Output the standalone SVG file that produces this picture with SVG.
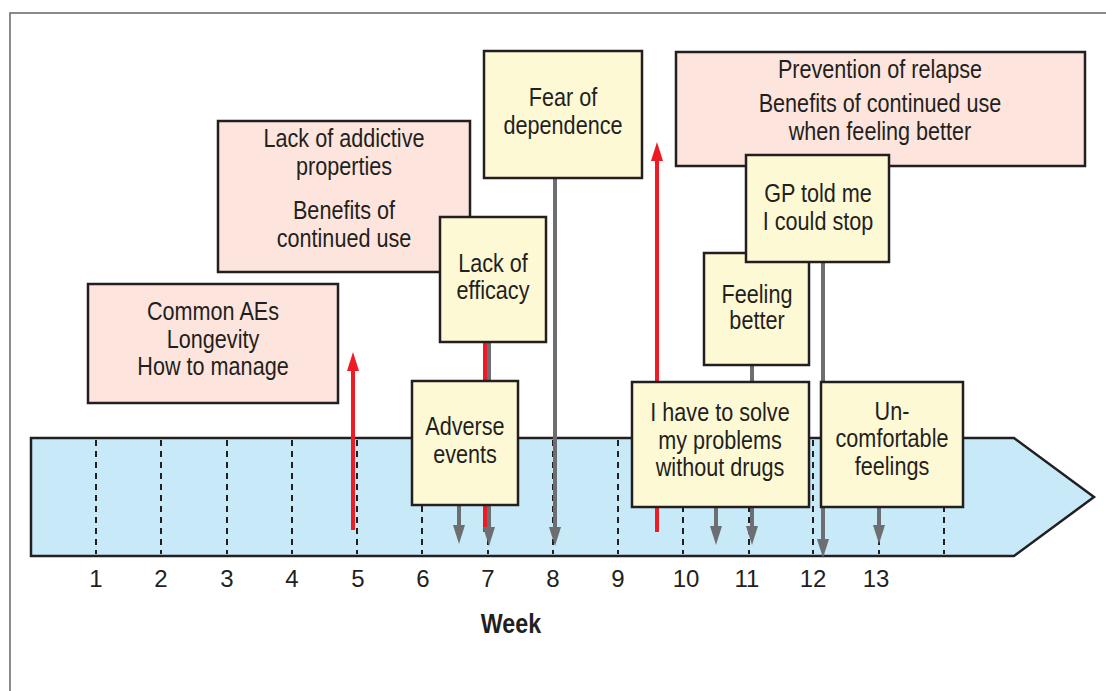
<svg xmlns="http://www.w3.org/2000/svg" width="1106" height="691" viewBox="0 0 1106 691">
<style>
.frame{fill:none;stroke:#6d6e71;stroke-width:1.6}
.tl{fill:#c8e9f8;stroke:#231f20;stroke-width:2.5;stroke-linejoin:miter}
.dash{stroke:#231f20;stroke-width:2;stroke-dasharray:6 5}
.gl{stroke:#6d6e71;stroke-width:4;fill:none}
.rl{stroke:#ed1c24;stroke-width:4;fill:none}
.pink{fill:#fde5dd;stroke:#231f20;stroke-width:2.5}
.yel{fill:#fef9d5;stroke:#231f20;stroke-width:2.5}
.t{font-family:"Liberation Sans Narrow","Liberation Sans",Arial,sans-serif;font-size:25px;fill:#231f20;text-anchor:middle}
.n{font-family:"Liberation Sans",Arial,sans-serif;font-size:24px;fill:#231f20;text-anchor:middle}
.wk{font-family:"Liberation Sans Narrow","Liberation Sans",Arial,sans-serif;font-size:28px;font-weight:bold;fill:#231f20;text-anchor:middle}
</style>
<defs>
<marker id="ga" markerUnits="userSpaceOnUse" markerWidth="20" markerHeight="12" refX="1" refY="6" orient="auto"><path d="M0,0 L19,6 L0,12 z" fill="#6d6e71"/></marker>
<marker id="ra" markerUnits="userSpaceOnUse" markerWidth="20" markerHeight="12" refX="1" refY="6" orient="auto"><path d="M0,0 L19,6 L0,12 z" fill="#ed1c24"/></marker>
</defs>
<rect class="frame" x="10" y="13" width="1200" height="800"/>
<g id="timeline">
<polygon class="tl" points="31,438 1014,438 1094,497 1014,556 31,556"/>
<g id="ticks">
<line class="dash" x1="96" y1="440" x2="96" y2="554"/>
<line class="dash" x1="161" y1="440" x2="161" y2="554"/>
<line class="dash" x1="227" y1="440" x2="227" y2="554"/>
<line class="dash" x1="292" y1="440" x2="292" y2="554"/>
<line class="dash" x1="357" y1="440" x2="357" y2="554"/>
<line class="dash" x1="422" y1="440" x2="422" y2="554"/>
<line class="dash" x1="488" y1="440" x2="488" y2="554"/>
<line class="dash" x1="553" y1="440" x2="553" y2="554"/>
<line class="dash" x1="618" y1="440" x2="618" y2="554"/>
<line class="dash" x1="683" y1="440" x2="683" y2="554"/>
<line class="dash" x1="749" y1="440" x2="749" y2="554"/>
<line class="dash" x1="813" y1="440" x2="813" y2="554"/>
<line class="dash" x1="879" y1="440" x2="879" y2="554"/>
<line class="dash" x1="944" y1="440" x2="944" y2="554"/>
</g>
<g id="weeks">
<text class="n" x="96" y="587">1</text>
<text class="n" x="161" y="587">2</text>
<text class="n" x="227" y="587">3</text>
<text class="n" x="292" y="587">4</text>
<text class="n" x="358" y="587">5</text>
<text class="n" x="423" y="587">6</text>
<text class="n" x="488" y="587">7</text>
<text class="n" x="553" y="587">8</text>
<text class="n" x="618" y="587">9</text>
<text class="n" x="686" y="587">10</text>
<text class="n" x="747" y="587">11</text>
<text class="n" x="813" y="587">12</text>
<text class="n" x="876" y="587">13</text>
</g>
<g transform="translate(511 0) scale(0.83 1)"><text class="wk" x="0" y="633">Week</text></g>
</g>
<g id="connectors">
<line class="rl" x1="353" y1="530" x2="353" y2="370" marker-end="url(#ra)"/>
<line class="rl" x1="657" y1="532" x2="657" y2="160" marker-end="url(#ra)"/>
<line class="rl" x1="485" y1="532" x2="485" y2="300"/>
<line class="gl" x1="489" y1="342" x2="489" y2="528" marker-end="url(#ga)"/>
<line class="gl" x1="459" y1="505" x2="459" y2="526" marker-end="url(#ga)"/>
<line class="gl" x1="555" y1="178" x2="555" y2="528" marker-end="url(#ga)"/>
<line class="gl" x1="716" y1="507" x2="716" y2="527" marker-end="url(#ga)"/>
<line class="gl" x1="752" y1="365" x2="752" y2="527" marker-end="url(#ga)"/>
<line class="gl" x1="823" y1="262" x2="823" y2="540" marker-end="url(#ga)"/>
<line class="gl" x1="879" y1="507" x2="879" y2="526" marker-end="url(#ga)"/>
</g>
<g id="n-common">
<rect class="pink" x="88" y="284" width="250" height="119"/>
<g transform="translate(213 0) scale(0.865 1)">
<text class="t" x="0" y="320">Common AEs</text>
<text class="t" x="0" y="348">Longevity</text>
<text class="t" x="0" y="375">How to manage</text>
</g>
</g>
<g id="n-addictive">
<rect class="pink" x="218" y="121" width="252" height="151"/>
<g transform="translate(344 0) scale(0.865 1)">
<text class="t" x="0" y="147">Lack of addictive</text>
<text class="t" x="0" y="175">properties</text>
<text class="t" x="0" y="219">Benefits of</text>
<text class="t" x="0" y="247">continued use</text>
</g>
</g>
<g id="n-prevention">
<rect class="pink" x="676" y="52" width="409" height="114"/>
<g transform="translate(880 0) scale(0.865 1)">
<text class="t" x="0" y="78">Prevention of relapse</text>
<text class="t" x="0" y="112">Benefits of continued use</text>
<text class="t" x="0" y="140">when feeling better</text>
</g>
</g>
<g id="n-fear">
<rect class="yel" x="484" y="51" width="158" height="127"/>
<g transform="translate(563 0) scale(0.865 1)">
<text class="t" x="0" y="106">Fear of</text>
<text class="t" x="0" y="134">dependence</text>
</g>
</g>
<g id="n-efficacy">
<rect class="yel" x="440" y="217" width="106" height="125"/>
<g transform="translate(493 0) scale(0.865 1)">
<text class="t" x="0" y="272">Lack of</text>
<text class="t" x="0" y="299">efficacy</text>
</g>
</g>
<g id="n-adverse">
<rect class="yel" x="412" y="381" width="106" height="124"/>
<g transform="translate(465 0) scale(0.865 1)">
<text class="t" x="0" y="435">Adverse</text>
<text class="t" x="0" y="463">events</text>
</g>
</g>
<g id="n-feeling">
<rect class="yel" x="704" y="253" width="105" height="112"/>
<g transform="translate(757 0) scale(0.865 1)">
<text class="t" x="0" y="303">Feeling</text>
<text class="t" x="0" y="329">better</text>
</g>
</g>
<g id="n-gp">
<rect class="yel" x="746" y="155" width="143" height="107"/>
<g transform="translate(818 0) scale(0.865 1)">
<text class="t" x="0" y="202">GP told me</text>
<text class="t" x="0" y="230">I could stop</text>
</g>
</g>
<g id="n-solve">
<rect class="yel" x="632" y="382" width="177" height="125"/>
<g transform="translate(720 0) scale(0.865 1)">
<text class="t" x="0" y="421">I have to solve</text>
<text class="t" x="0" y="449">my problems</text>
<text class="t" x="0" y="476">without drugs</text>
</g>
</g>
<g id="n-uncomfortable">
<rect class="yel" x="821" y="382" width="142" height="125"/>
<g transform="translate(892 0) scale(0.865 1)">
<text class="t" x="0" y="420">Un-</text>
<text class="t" x="0" y="447">comfortable</text>
<text class="t" x="0" y="475">feelings</text>
</g>
</g>
</svg>
